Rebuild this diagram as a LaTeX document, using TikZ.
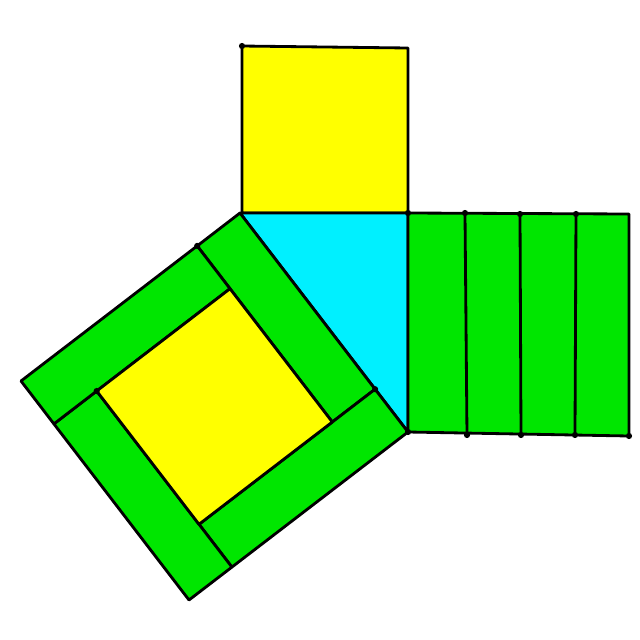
\documentclass[tikz,border=0pt]{standalone}
\usepackage{tikz}
\definecolor{sqyellow}{RGB}{255,255,0}
\definecolor{tricyan}{RGB}{0,240,255}
\definecolor{barsgreen}{RGB}{0,230,0}

\begin{document}
\begin{tikzpicture}[
        x=0.025cm,y=-0.025cm,
        piece/.style={draw=black,line width=2pt,line join=round},
        joint/.style={fill=black}
    ]
    \useasboundingbox (0,0) rectangle (640,640);
    % triangle and the corners of the square on its hypotenuse
    \coordinate (P) at (240,213);
    \coordinate (Q) at (408,213);
    \coordinate (R) at (408,432);
    \coordinate (S) at (189,600);
    \coordinate (T) at (21,381);
    % pinwheel
    \coordinate (R1) at (375.1,389.2);
    \coordinate (L1) at (197.2,245.9);
    \coordinate (B1) at (231.9,567.1);
    \coordinate (D1) at (53.9,423.9);
    \coordinate (I1) at (332.3,422.0);
    \coordinate (I2) at (199.0,524.3);
    \coordinate (I3) at (96.7,391.0);
    \coordinate (I4) at (230.0,288.7);

    \draw[piece,fill=sqyellow] (242,46) -- (408,48) -- (Q) -- (242,213) -- cycle;
    \draw[piece,fill=tricyan] (P) -- (Q) -- (R) -- cycle;
    \draw[piece,fill=barsgreen] (Q) -- (629,214) -- (629,436) -- (R) -- cycle;
    \foreach \xa/\xb in {465/467,520/521,576/575}
        \draw[piece] (\xa,213) -- (\xb,435);

    \draw[piece,fill=barsgreen] (P) -- (R1) -- (I1) -- (L1) -- cycle;
    \draw[piece,fill=barsgreen] (R) -- (B1) -- (I2) -- (R1) -- cycle;
    \draw[piece,fill=barsgreen] (S) -- (D1) -- (I3) -- (B1) -- cycle;
    \draw[piece,fill=barsgreen] (T) -- (L1) -- (I4) -- (D1) -- cycle;
    \draw[piece,fill=sqyellow] (I1) -- (I2) -- (I3) -- (I4) -- cycle;

    \foreach \pt in {(242,46),(Q),(R),(R1),(L1),(I3),
            (465,213),(520,214),(576,214),(467,435),(521,435),(575,435),(629,436)}
        \fill[joint] \pt circle[radius=2.2pt];
\end{tikzpicture}
\end{document}
